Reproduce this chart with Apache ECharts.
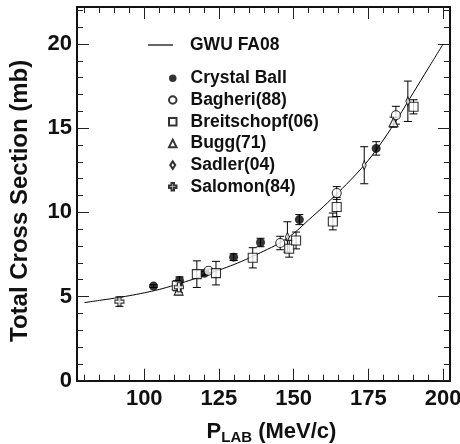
<!DOCTYPE html>
<html>
<head>
<meta charset="utf-8">
<script src="https://cdn.jsdelivr.net/npm/echarts@6/dist/echarts.min.js"></script>
<style>html,body{margin:0;padding:0;background:#fff}#c{width:460px;height:444px}</style>
</head>
<body>
<div id="c"></div>
<script>
// ---- data: [p_lab (MeV/c), sigma (mb), error (mb)] ----
const gwuCurve = [[80,4.64],[85,4.77],[90,4.90],[95,5.05],[100,5.22],[105,5.42],[110,5.67],[115,5.95],[120,6.25],[125,6.57],[130,6.90],[135,7.28],[140,7.70],[145,8.15],[150,8.75],[155,9.55],[160,10.35],[165,11.20],[170,12.10],[175,13.10],[180,14.30],[185,15.65],[190,17.10],[195,18.55],[200,20.00]];
const crystalBall = [[103.1,5.62,0.08],[111.8,5.95,0.22],[120.1,6.38,0.1],[129.9,7.34,0.2],[138.9,8.21,0.25],[151.9,9.57,0.3],[177.6,13.8,0.4]];
const bagheri = [[121.5,6.53,0.1],[145.5,8.18,0.4],[164.4,11.15,0.38],[184.2,15.77,0.53]];
const breitschopf = [[110.9,5.64,0.3],[117.6,6.33,0.79],[124.0,6.39,0.7],[136.3,7.30,0.6],[148.5,7.84,0.5],[150.8,8.33,0.5],[163.1,9.46,0.5],[164.4,10.32,0.57],[190.1,16.27,0.42]];
const bugg = [[111.5,5.35,0.25],[183.4,15.36,0.3]];
const sadler = [[147.9,8.54,0.9],[173.6,12.8,1.1],[188.2,16.6,1.2]];
const salomon = [[91.7,4.70,0.28],[111.6,5.55,0.3]];
const xMajor = [100,125,150,175,200];
const yMajor = [0,5,10,15,20];
const xMinor = []; for (let v = 80; v <= 200; v += 5) xMinor.push(v);
const yMinor = []; for (let v = 1; v <= 22; v += 1) yMinor.push(v);

const FONT = 'Liberation Sans';
const BLACK = '#111';

function errRender(params, api) {
  const x = api.value(0), y = api.value(1), e = api.value(2);
  const lo = api.coord([x, y - e]), hi = api.coord([x, y + e]);
  const w = 4;
  const st = { stroke: '#000', lineWidth: 1 };
  return { type: 'group', children: [
    { type: 'line', shape: { x1: lo[0], y1: lo[1], x2: hi[0], y2: hi[1] }, style: st },
    { type: 'line', shape: { x1: lo[0] - w, y1: lo[1], x2: lo[0] + w, y2: lo[1] }, style: st },
    { type: 'line', shape: { x1: hi[0] - w, y1: hi[1], x2: hi[0] + w, y2: hi[1] }, style: st }
  ]};
}

const XMIN = 77.5, XMAX = 202.3, YMIN = 0, YMAX = 22.2;
function lineOpt(show) {
  return { show: show, onZero: false, lineStyle: { color: BLACK, width: 2 } };
}
function xAx(pos, ticks, len, showLine, labels) {
  return {
    type: 'value', position: pos, min: XMIN, max: XMAX, gridIndex: 0,
    axisLine: lineOpt(showLine),
    splitLine: { show: false },
    axisTick: { show: true, inside: true, length: len, customValues: ticks, lineStyle: { color: '#222', width: 1 } },
    axisLabel: labels ? { show: true, customValues: xMajor, margin: 7, color: BLACK, fontFamily: FONT, fontWeight: 'bold', fontSize: 22 } : { show: false }
  };
}
function yAx(pos, ticks, len, showLine, labels) {
  return {
    type: 'value', position: pos, min: YMIN, max: YMAX, gridIndex: 0,
    axisLine: lineOpt(showLine),
    splitLine: { show: false },
    axisTick: { show: true, inside: true, length: len, customValues: ticks, lineStyle: { color: '#222', width: 1 } },
    axisLabel: labels ? { show: true, customValues: yMajor, margin: 5, color: BLACK, fontFamily: FONT, fontWeight: 'bold', fontSize: 22 } : { show: false }
  };
}

const xAxes = [xAx('bottom', xMinor, 6, true, true), xAx('bottom', xMajor, 12, false, false), xAx('top', xMinor, 6, true, false), xAx('top', xMajor, 12, false, false)];
xAxes[0].name = '{p|P}{s|LAB}{n| (MeV/c)}';
xAxes[0].nameLocation = 'middle';
xAxes[0].nameGap = 40;
xAxes[0].nameTextStyle = { padding: [0, 0, 0, 16], rich: {
  p: { fontFamily: FONT, fontWeight: 'bold', fontSize: 22, color: BLACK, lineHeight: 24, verticalAlign: 'top' },
  s: { fontFamily: FONT, fontWeight: 'bold', fontSize: 15, color: BLACK, lineHeight: 24, padding: [10, 0, 0, 0], verticalAlign: 'top' },
  n: { fontFamily: FONT, fontWeight: 'bold', fontSize: 22, color: BLACK, lineHeight: 24, verticalAlign: 'top' }
}};
const yAxes = [yAx('left', yMinor, 6, true, true), yAx('left', yMajor, 12, false, false), yAx('right', yMinor, 6, true, false), yAx('right', yMajor, 12, false, false)];
yAxes[0].name = 'Total Cross Section (mb)';
yAxes[0].nameLocation = 'middle';
yAxes[0].nameGap = 45;
yAxes[0].nameTextStyle = { fontFamily: FONT, fontWeight: 'bold', fontSize: 24, color: BLACK, padding: [0, 14, 0, 0] };

const openStyle = { color: '#fff', borderColor: '#000', borderWidth: 1.1 };
const crossPath = 'path://M3,0H6V3H9V6H6V9H3V6H0V3H3Z';
const diamondPath = 'path://M3,0L6,4.5L3,9L0,4.5Z';

const sets = [
  { name: 'Crystal Ball', data: crystalBall, symbol: 'circle', size: 9, style: { color: '#000' } },
  { name: 'Bagheri(88)', data: bagheri, symbol: 'circle', size: 9, style: openStyle },
  { name: 'Breitschopf(06)', data: breitschopf, symbol: 'rect', size: 9, style: openStyle },
  { name: 'Bugg(71)', data: bugg, symbol: 'triangle', size: 9, style: openStyle },
  { name: 'Sadler(04)', data: sadler, symbol: diamondPath, size: [6, 9], style: openStyle },
  { name: 'Salomon(84)', data: salomon, symbol: crossPath, size: 9, style: openStyle }
];

const series = [{
  name: 'GWU FA08', type: 'line', data: gwuCurve, smooth: 0.3, symbol: 'none', showSymbol: false,
  lineStyle: { color: '#000', width: 1 }, itemStyle: { color: '#000' }, z: 2
}];
sets.forEach(s => {
  series.push({ name: s.name + ' err', type: 'custom', data: s.data, renderItem: errRender, z: 3, silent: true, encode: { x: 0, y: 1 } });
  series.push({ name: s.name, type: 'scatter', data: s.data.map(d => [d[0], d[1]]), symbol: s.symbol, symbolSize: s.size, symbolKeepAspect: true, itemStyle: s.style, z: 4 });
});

const chart = echarts.init(document.getElementById('c'), null, { renderer: 'canvas' });
chart.setOption({
  animation: false,
  backgroundColor: '#fff',
  grid: { left: 77, right: 10, top: 7, bottom: 63.3, containLabel: false, outerBoundsMode: 'none' },
  xAxis: xAxes,
  yAxis: yAxes,
  legend: [
    { data: [{ name: 'GWU FA08', icon: 'rect', itemStyle: { color: '#000', borderWidth: 0 } }], left: 148, top: 36, padding: 0, itemWidth: 25, itemHeight: 1.2, selectedMode: false,
      textStyle: { fontFamily: FONT, fontWeight: 'bold', fontSize: 17.5, color: BLACK, lineHeight: 18, padding: [0, 0, 0, 12] } },
    { data: sets.map(s => s.name), orient: 'vertical', left: 168, top: 69.3, padding: 0, itemWidth: 7.5, itemHeight: 7.5, itemGap: 3.7, selectedMode: false,
      textStyle: { fontFamily: FONT, fontWeight: 'bold', fontSize: 17.5, color: BLACK, lineHeight: 18, padding: [0, 0, 0, 9] } }
  ],
  series: series
});
</script>
</body>
</html>
